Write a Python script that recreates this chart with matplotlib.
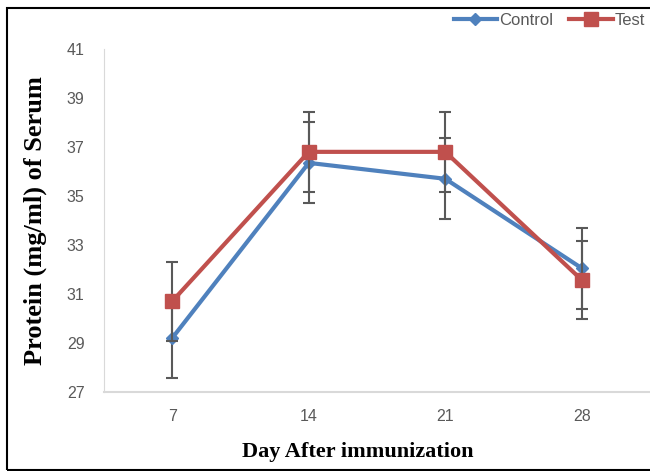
import matplotlib
matplotlib.use("Agg")
import matplotlib.pyplot as plt
from matplotlib.patches import Rectangle
from matplotlib.lines import Line2D

# ---------------- dati ----------------
days = ["7", "14", "21", "28"]
control = [29.2, 36.35, 35.7, 32.05]
control_err = [1.65, 1.65, 1.65, 1.65]
test = [30.7, 36.8, 36.8, 31.57]
test_err = [1.62, 1.62, 1.62, 1.6]
yticks = [27, 29, 31, 33, 35, 37, 39, 41]

blue = "#4F81BD"
red = "#C0504D"
err_col = "#595959"
tick_font = ["Liberation Sans Narrow", "Liberation Sans", "DejaVu Sans"]

fig = plt.figure(figsize=(6.5, 4.71), dpi=100)
ax = fig.add_axes([0.16, 0.168, 0.84, 0.728])

x = range(len(days))
ax.errorbar(x, control, yerr=control_err, color=blue, lw=3, marker="D", ms=6,
            ecolor=err_col, elinewidth=1.5, capsize=4, capthick=1.5, zorder=3)
ax.errorbar(x, test, yerr=test_err, color=red, lw=3, marker="s", ms=10,
            ecolor=err_col, elinewidth=1.5, capsize=4, capthick=1.5, zorder=4)

ax.set_xlim(-0.5, 3.5)
ax.set_ylim(27, 41)
ax.set_yticks(yticks)
ax.set_xticks(list(x))
ax.set_xticklabels(days)
ax.tick_params(length=0, colors="#595959", labelsize=11.5)
ax.tick_params(axis="y", pad=14)
ax.tick_params(axis="x", pad=12)
for lbl in ax.get_xticklabels() + ax.get_yticklabels():
    lbl.set_family(tick_font)

for s in ["top", "right"]:
    ax.spines[s].set_visible(False)
ax.spines["left"].set_color("#d9d9d9")
ax.spines["bottom"].set_color("#d9d9d9")
ax.spines["bottom"].set_linewidth(1.5)

fig.text(0.054, 0.531, "Protein (mg/ml) of Serum", rotation=90, ha="center", va="center",
         family="Liberation Serif", weight="bold", fontsize=19)
fig.text(0.551, 0.04, "Day After immunization", ha="center", va="center",
         family="Liberation Serif", weight="bold", fontsize=16)

handles = [Line2D([], [], color=blue, lw=3, marker="D", ms=6),
           Line2D([], [], color=red, lw=3, marker="s", ms=10)]
leg = fig.legend(handles, ["Control", "Test"], loc="upper right", bbox_to_anchor=(1.015, 1.005),
                 ncol=2, frameon=False, prop={"family": tick_font, "size": 12},
                 handlelength=2.6, columnspacing=1.0, handletextpad=0.1)
for t in leg.get_texts():
    t.set_color("#595959")

# cornice nera
fig.patches.append(Rectangle((0.011, 0.002), 1.1, 0.981, transform=fig.transFigure,
                             fill=False, edgecolor="black", lw=1.5))

fig.savefig("out.png", dpi=100)
